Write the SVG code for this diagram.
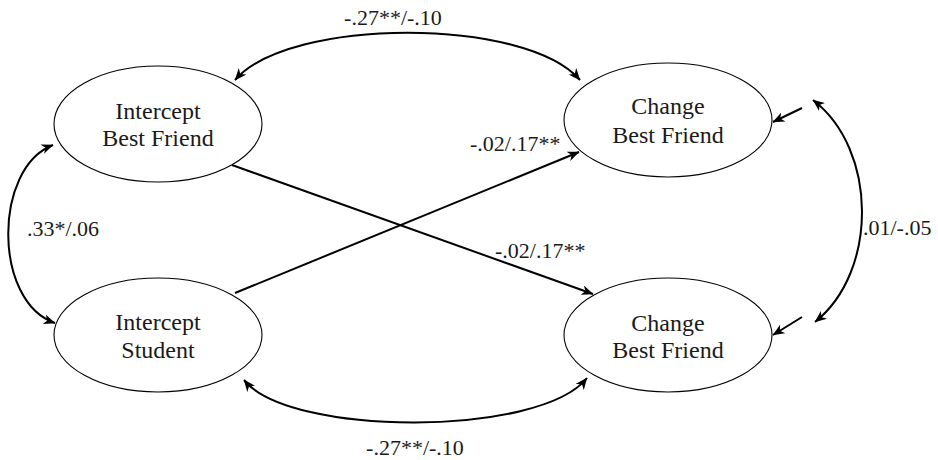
<svg xmlns="http://www.w3.org/2000/svg" width="938" height="460" viewBox="0 0 938 460">
<style>
.node ellipse{fill:#fff;stroke:#000;stroke-width:1.1}
.node text{font-family:"Liberation Serif","Times New Roman",serif;font-size:24px;fill:#1a1a1a;text-anchor:middle}
.lbl{font-family:"Liberation Serif","Times New Roman",serif;font-size:22px;fill:#1a1a1a}
.conn path,.conn line{fill:none;stroke:#000;stroke-width:2}
</style>
<defs>
<marker id="ah" viewBox="0 0 12 10" refX="11.5" refY="5" markerWidth="12" markerHeight="10" markerUnits="userSpaceOnUse" orient="auto-start-reverse">
<path d="M0,0 L12,5 L0,10 L3.5,5 Z" fill="#000"/>
</marker>
</defs>
<rect width="938" height="460" fill="#fff"/>
<g id="connectors" class="conn">
<path d="M235,80 C290,17 525,17 580,80" marker-start="url(#ah)" marker-end="url(#ah)"/>
<path d="M244,380 C290,437 540,437 587,378" marker-start="url(#ah)" marker-end="url(#ah)"/>
<path d="M53,145 C-7,168 -7,302 55,323" marker-start="url(#ah)" marker-end="url(#ah)"/>
<path d="M813,100 C878,150 878,272 815,322" marker-start="url(#ah)" marker-end="url(#ah)"/>
<line x1="232" y1="165" x2="593" y2="294" marker-end="url(#ah)"/>
<line x1="235" y1="293" x2="579" y2="152" marker-end="url(#ah)"/>
<line x1="802" y1="108" x2="773" y2="122" marker-end="url(#ah)"/>
<line x1="802" y1="317" x2="773" y2="335" marker-end="url(#ah)"/>
</g>
<g id="node-intercept-bf" class="node">
<ellipse cx="158" cy="124" rx="104" ry="58"/>
<text x="158" y="119">Intercept</text>
<text x="158" y="146">Best Friend</text>
</g>
<g id="node-change-bf-top" class="node">
<ellipse cx="668" cy="120" rx="104" ry="57"/>
<text x="668" y="114">Change</text>
<text x="668" y="143">Best Friend</text>
</g>
<g id="node-intercept-student" class="node">
<ellipse cx="158" cy="335" rx="104" ry="57"/>
<text x="158" y="330">Intercept</text>
<text x="158" y="358">Student</text>
</g>
<g id="node-change-bf-bottom" class="node">
<ellipse cx="668" cy="335" rx="104" ry="57"/>
<text x="668" y="331">Change</text>
<text x="668" y="358">Best Friend</text>
</g>
<g id="labels">
<text class="lbl" x="393" y="25" text-anchor="middle">-.27**/-.10</text>
<text class="lbl" x="415" y="455" text-anchor="middle">-.27**/-.10</text>
<text class="lbl" x="27" y="236">.33*/.06</text>
<text class="lbl" x="863" y="235">.01/-.05</text>
<text class="lbl" x="470" y="151">-.02/.17**</text>
<text class="lbl" x="495" y="258">-.02/.17**</text>
</g>
</svg>
